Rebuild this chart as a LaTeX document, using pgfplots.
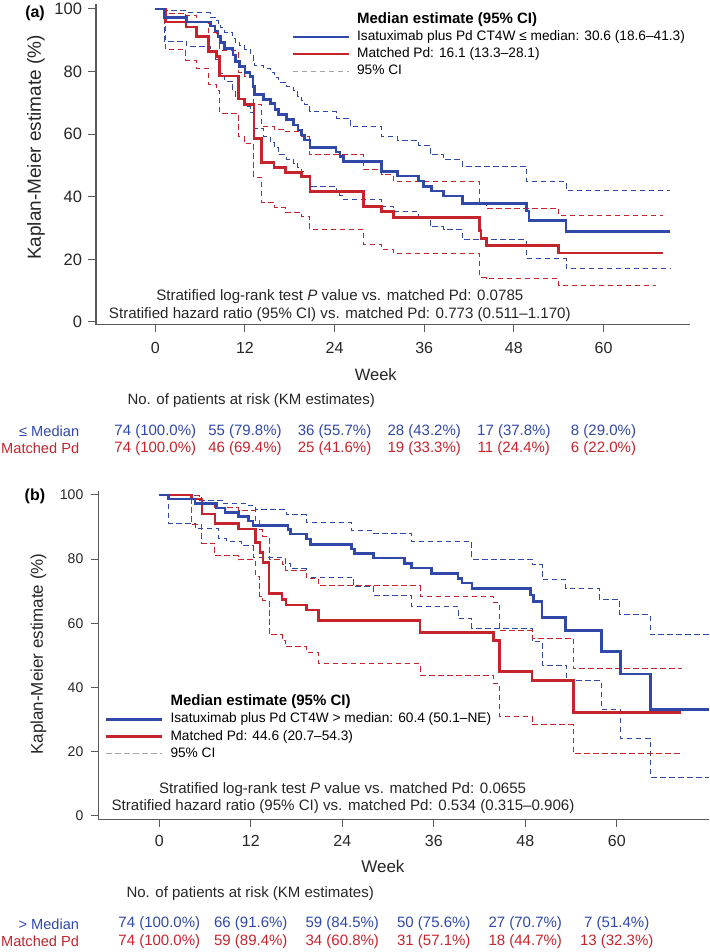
\documentclass[border=0pt]{standalone}
\usepackage{fontspec}
\setmainfont{Liberation Sans}
\usepackage{pgfplots}
\pgfplotsset{compat=1.18}
\definecolor{cblue}{RGB}{48,72,168}
\definecolor{cred}{RGB}{198,36,44}
\definecolor{lgray}{RGB}{165,165,165}
\definecolor{axisgray}{RGB}{90,90,90}
\newcommand\fs[1]{\fontsize{#1}{#1}\selectfont}
\pgfplotsset{
  kmbase/.style={
    scale only axis, clip=false,
    axis lines=left, axis line style={-, line width=1pt, draw=axisgray},
    xtick={0,12,...,60}, ytick={0,20,...,100},
    tick align=outside, major tick length=7.5pt,
    tick style={line width=1pt, draw=axisgray},
    /pgf/number format/assume math mode=true,
    xticklabel style={inner sep=0pt, anchor=north, text=black!85},
    yticklabel style={inner sep=0pt, anchor=east, text=black!85},
    legend image code/.code={\draw[##1] (0pt,0pt) -- (56pt,0pt);},
    legend cell align=left,
  },
  solidb/.style={const plot, cblue, line width=2.6pt, forget plot},
  solidr/.style={const plot, cred, line width=2.6pt, forget plot},
  dashb/.style={const plot, cblue, line width=1pt, dash pattern=on 5.5pt off 3.5pt, forget plot},
  dashr/.style={const plot, cred, line width=1pt, dash pattern=on 5.5pt off 3.5pt, forget plot},
}
\begin{document}
\begin{tikzpicture}[x=1pt,y=1pt]
\useasboundingbox (0,0) rectangle (709,952);
% ---------------- Panel (a)
\begin{axis}[kmbase,
  at={(96pt,627pt)}, anchor=south west,
  width=594pt, height=321pt,
  xmin=-7.94, xmax=71.58, ymin=-0.96, ymax=101.6,
  xticklabel style={font=\fs{16}}, xticklabel shift=10pt,
  yticklabel style={font=\fs{16.5}}, yticklabel shift=6.3pt,
  ylabel={Kaplan-Meier estimate (\%)},
  ylabel style={font=\fs{19}, at={(axis description cs:-0.101,0.553)}, anchor=center, text=black!85},
  xlabel={Week},
  xlabel style={font=\fs{16.5}, at={(axis description cs:0.471,-0.156)}, anchor=center, text=black!85},
  legend style={draw=none, fill=none, at={(axis description cs:0.3288,0.977)}, anchor=north west,
    inner sep=0pt, font=\fs{13.7}, column sep=5pt, row sep=0pt,
    nodes={inner sep=2pt, text height=10pt, text depth=3pt}},
]
\addplot[dashb] coordinates {(0,100) (1.2,99.4) (4.2,98.8) (7.4,97.4) (8.0,96.4) (8.4,95.4) (8.7,94.0) (9.3,92.6) (10.4,90.5) (10.7,89.2) (11.3,88.2) (12.0,87.2) (12.7,85.8) (13.1,83.6) (13.3,82.0) (14.5,80.9) (15.4,79.8) (16.0,78.2) (16.5,76.6) (17.6,75.2) (18.5,73.8) (19.1,72.2) (19.6,70.8) (20.0,69.4) (20.7,67.2) (24.2,65.1) (26.1,62.4) (30.3,59.2) (32.4,58.1) (35.2,56.5) (36.8,53.4) (38.6,51.8) (41.1,49.8) (49.7,44.8) (55.0,42.0) (68.9,42.0)};
\addplot[dashb] coordinates {(0,100) (1.2,89.7) (4.2,88.1) (7.4,86.0) (8.0,84.0) (8.4,82.2) (8.7,79.5) (9.3,76.9) (10.4,74.0) (10.7,72.1) (11.3,71.0) (12.0,68.8) (12.7,66.8) (13.1,63.5) (13.3,61.9) (14.5,59.3) (15.4,57.2) (16.0,55.6) (16.5,53.4) (17.6,52.0) (18.5,50.7) (19.1,49.4) (19.6,48.1) (20.0,46.6) (20.7,43.4) (24.2,41.8) (24.7,40.4) (25.2,39.1) (30.3,36.9) (31.9,35.3) (35.2,33.6) (36.8,30.4) (38.6,29.4) (41.1,26.2) (49.7,20.3) (55.0,17.1) (68.9,17.1)};
\addplot[dashr] coordinates {(0,100) (1.4,98.7) (4.1,97.9) (5.5,95.9) (7.1,92.5) (8.2,91.0) (8.58,86.8) (11.1,79.8) (11.9,78.4) (13.2,69.5) (14.2,62.4) (15.9,61.6) (17.4,60.8) (19.6,59.4) (20.7,53.4) (27.9,48.6) (30.3,47.0) (31.9,44.9) (43.4,38.0) (44.3,36.4) (54.0,34.0) (68.0,34.0)};
\addplot[dashr] coordinates {(0,100) (1.4,87.1) (4.1,83.6) (5.5,81.0) (7.1,75.8) (8.2,74.0) (8.58,66.7) (11.1,59.3) (11.9,57.0) (13.2,46.2) (14.2,38.3) (15.9,36.7) (17.4,35.1) (19.6,33.7) (20.7,29.5) (27.9,24.8) (30.3,23.2) (31.9,21.8) (43.4,14.2) (44.3,13.8) (54.0,11.6) (67.0,11.6)};
\addplot[solidr] coordinates {(0,100) (1.4,95.9) (4.1,94.3) (5.5,91.2) (7.1,86.4) (8.2,84.8) (8.58,78.6) (11.1,71.2) (11.9,69.4) (13.2,58.7) (14.2,51.0) (15.9,49.3) (17.4,47.8) (19.6,46.4) (20.7,41.6) (27.9,36.9) (30.3,35.3) (31.9,33.4) (43.4,29.3) (43.6,26.6) (44.3,24.4) (54.0,22.0) (68.0,22.0)};
\addplot[solidb] coordinates {(0,100) (1.2,97.3) (4.2,95.9) (7.4,94.6) (8.0,93.0) (8.4,91.2) (8.7,89.2) (9.3,87.4) (10.4,85.3) (10.7,83.2) (11.3,81.6) (12.0,79.8) (12.7,78.4) (13.1,75.3) (13.3,72.6) (14.5,71.0) (15.4,69.9) (16.0,67.8) (16.5,66.2) (17.6,64.6) (18.5,63.0) (19.1,61.3) (19.6,59.7) (20.0,58.1) (20.7,55.7) (24.2,54.3) (24.7,52.8) (25.2,51.2) (30.3,48.1) (32.4,46.6) (35.2,45.0) (35.9,43.2) (37.0,41.9) (38.6,40.3) (41.1,37.8) (49.7,35.5) (50.0,32.4) (55.0,29.0) (68.9,29.0)};
\addlegendimage{empty legend}\addlegendentry{\fs{15}\bfseries Median estimate (95\% CI)}
\addlegendimage{cblue, line width=2.6pt}\addlegendentry{Isatuximab plus Pd CT4W ≤ median: 30.6 (18.6–41.3)}
\addlegendimage{cred, line width=2.6pt}\addlegendentry{Matched Pd: 16.1 (13.3–28.1)}
\addlegendimage{lgray, line width=1pt, dash pattern=on 5.5pt off 3.5pt}\addlegendentry{95\% CI}
\node[font=\fs{16}\bfseries, anchor=center] at (axis cs:-16.1,98.6) {(a)};
\node[font=\fs{15.1}, anchor=center, text=black!85] at (axis cs:24.7,8.08) {Stratified log-rank test \textit{P} value vs. matched Pd: 0.0785};
\node[font=\fs{15.1}, anchor=center, text=black!85] at (axis cs:24.7,2.24) {Stratified hazard ratio (95\% CI) vs. matched Pd: 0.773 (0.511–1.170)};
\node[font=\fs{15}, anchor=west, text=black!85] at (axis cs:-4.19,-25.14) {No. of patients at risk (KM estimates)};
\node[font=\fs{14.6}, anchor=east, inner sep=0pt, text=cblue] at (axis cs:-10.17,-35.05) {≤ Median};
\node[font=\fs{14.6}, anchor=east, inner sep=0pt, text=cred] at (axis cs:-10.17,-40.35) {Matched Pd};
\node[font=\fs{15}, text=cblue] at (axis cs:0,-35.05) {74 (100.0\%)};
\node[font=\fs{15}, text=cblue] at (axis cs:12,-35.05) {55 (79.8\%)};
\node[font=\fs{15}, text=cblue] at (axis cs:24,-35.05) {36 (55.7\%)};
\node[font=\fs{15}, text=cblue] at (axis cs:36,-35.05) {28 (43.2\%)};
\node[font=\fs{15}, text=cblue] at (axis cs:48,-35.05) {17 (37.8\%)};
\node[font=\fs{15}, text=cblue] at (axis cs:60,-35.05) {8 (29.0\%)};
\node[font=\fs{15}, text=cred] at (axis cs:0,-40.35) {74 (100.0\%)};
\node[font=\fs{15}, text=cred] at (axis cs:12,-40.35) {46 (69.4\%)};
\node[font=\fs{15}, text=cred] at (axis cs:24,-40.35) {25 (41.6\%)};
\node[font=\fs{15}, text=cred] at (axis cs:36,-40.35) {19 (33.3\%)};
\node[font=\fs{15}, text=cred] at (axis cs:48,-40.35) {11 (24.4\%)};
\node[font=\fs{15}, text=cred] at (axis cs:60,-40.35) {6 (22.0\%)};
\end{axis}
% ---------------- Panel (b)
\begin{axis}[kmbase,
  at={(98.3pt,132.7pt)}, anchor=south west,
  width=610.7pt, height=328.6pt,
  xmin=-8.0, xmax=72.1, ymin=-1.03, ymax=101.3,
  xticklabel style={font=\fs{16}}, xticklabel shift=8.5pt,
  yticklabel style={font=\fs{14}}, yticklabel shift=7.3pt,
  ylabel={Kaplan-Meier estimate (\%)},
  ylabel style={font=\fs{17}, at={(axis description cs:-0.098,0.503)}, anchor=center, text=black!85},
  xlabel={Week},
  xlabel style={font=\fs{17}, at={(axis description cs:0.466,-0.144)}, anchor=center, text=black!85},
  legend style={draw=none, fill=none, at={(axis description cs:0.0105,0.383)}, anchor=north west,
    inner sep=0pt, font=\fs{13.7}, column sep=5pt, row sep=0pt,
    nodes={inner sep=2pt, text height=10pt, text depth=3.2pt}},
]
\addplot[dashb] coordinates {(0,100) (1.2,99.7) (5.3,98.4) (8.4,97.4) (11.7,96.6) (12.6,95.3) (16.7,93.8) (19.3,91.4) (25.2,88.9) (28.1,88.1) (33.1,85.5) (41.0,80.0) (48.9,78.2) (50.2,73.7) (53.3,70.9) (57.8,67.3) (60.4,62.6) (64.4,56.4) (72.1,56.4)};
\addplot[dashb] coordinates {(0,100) (1.2,91.2) (4.7,89.6) (7.75,86.5) (8.8,85.5) (10.8,84.1) (12.3,80.6) (16.5,78.7) (17.2,77.0) (19.3,74.3) (25.5,71.4) (28.1,68.8) (33.1,65.2) (39.2,61.6) (41.0,58.5) (48.9,54.3) (50.2,47.0) (53.4,42.1) (58.0,33.2) (60.5,24.2) (64.4,12.1) (72.1,12.1)};
\addplot[dashr] coordinates {(0,100) (4.25,99.8) (5.6,97.6) (7.3,96.0) (10.4,95.0) (12.6,92.0) (13.2,89.1) (13.6,87.0) (14.4,79.8) (16.1,78.2) (16.6,76.6) (19.3,74.0) (20.9,71.7) (34.2,68.3) (43.8,66.5) (44.6,57.7) (48.9,55.4) (54.3,45.8) (68.6,45.8)};
\addplot[dashr] coordinates {(0,100) (4.25,90.7) (5.6,85.0) (7.3,81.0) (10.4,79.8) (12.6,74.6) (13.2,68.5) (13.6,67.1) (14.4,56.4) (16.1,54.6) (16.6,52.7) (19.3,50.9) (20.9,47.5) (34.2,43.9) (43.8,41.3) (44.6,31.0) (48.9,28.4) (54.3,19.4) (68.6,19.4)};
\addplot[solidr] coordinates {(0,100) (4.25,98.7) (5.6,94.1) (7.3,91.0) (10.4,89.4) (12.6,85.2) (13.2,82.0) (13.6,78.9) (14.4,69.2) (16.1,67.5) (16.6,65.7) (19.3,64.2) (20.9,60.8) (34.2,57.1) (43.8,54.6) (44.6,45.0) (48.9,42.2) (54.3,32.3) (68.4,32.3)};
\addplot[solidb] coordinates {(0,100) (1.2,98.7) (4.7,97.3) (7.5,95.9) (8.6,94.6) (10.4,93.2) (11.7,91.9) (12.3,90.5) (16.9,89.2) (17.2,87.8) (19.3,86.2) (19.8,84.5) (25.2,83.2) (25.6,81.8) (28.1,80.3) (32.2,78.7) (33.1,77.2) (35.7,75.6) (39.2,74.0) (39.7,72.5) (41.0,70.9) (48.7,68.8) (49.1,66.8) (50.2,61.8) (53.3,57.7) (58.0,51.2) (60.5,44.2) (64.4,33.1) (72.1,33.1)};
\addlegendimage{empty legend}\addlegendentry{\fs{15}\bfseries Median estimate (95\% CI)}
\addlegendimage{cblue, line width=2.6pt}\addlegendentry{Isatuximab plus Pd CT4W > median: 60.4 (50.1–NE)}
\addlegendimage{cred, line width=2.6pt}\addlegendentry{Matched Pd: 44.6 (20.7–54.3)}
\addlegendimage{lgray, line width=1pt, dash pattern=on 5.5pt off 3.5pt}\addlegendentry{95\% CI}
\node[font=\fs{16}\bfseries, anchor=center] at (axis cs:-16.31,99.5) {(b)};
\node[font=\fs{15.1}, anchor=center, text=black!85] at (axis cs:24.04,8.1) {Stratified log-rank test \textit{P} value vs. matched Pd: 0.0655};
\node[font=\fs{15.1}, anchor=center, text=black!85] at (axis cs:24.1,2.9) {Stratified hazard ratio (95\% CI) vs. matched Pd: 0.534 (0.315–0.906)};
\node[font=\fs{15}, anchor=west, text=black!85] at (axis cs:-4.76,-24.08) {No. of patients at risk (KM estimates)};
\node[font=\fs{14.6}, anchor=east, inner sep=0pt, text=cblue] at (axis cs:-10.5,-33.64) {> Median};
\node[font=\fs{14.6}, anchor=east, inner sep=0pt, text=cred] at (axis cs:-10.5,-39.16) {Matched Pd};
\node[font=\fs{15}, text=cblue] at (axis cs:0,-33.64) {74 (100.0\%)};
\node[font=\fs{15}, text=cblue] at (axis cs:12,-33.64) {66 (91.6\%)};
\node[font=\fs{15}, text=cblue] at (axis cs:24,-33.64) {59 (84.5\%)};
\node[font=\fs{15}, text=cblue] at (axis cs:36,-33.64) {50 (75.6\%)};
\node[font=\fs{15}, text=cblue] at (axis cs:48,-33.64) {27 (70.7\%)};
\node[font=\fs{15}, text=cblue] at (axis cs:60,-33.64) {7 (51.4\%)};
\node[font=\fs{15}, text=cred] at (axis cs:0,-39.16) {74 (100.0\%)};
\node[font=\fs{15}, text=cred] at (axis cs:12,-39.16) {59 (89.4\%)};
\node[font=\fs{15}, text=cred] at (axis cs:24,-39.16) {34 (60.8\%)};
\node[font=\fs{15}, text=cred] at (axis cs:36,-39.16) {31 (57.1\%)};
\node[font=\fs{15}, text=cred] at (axis cs:48,-39.16) {18 (44.7\%)};
\node[font=\fs{15}, text=cred] at (axis cs:60,-39.16) {13 (32.3\%)};
\end{axis}
\end{tikzpicture}
\end{document}
